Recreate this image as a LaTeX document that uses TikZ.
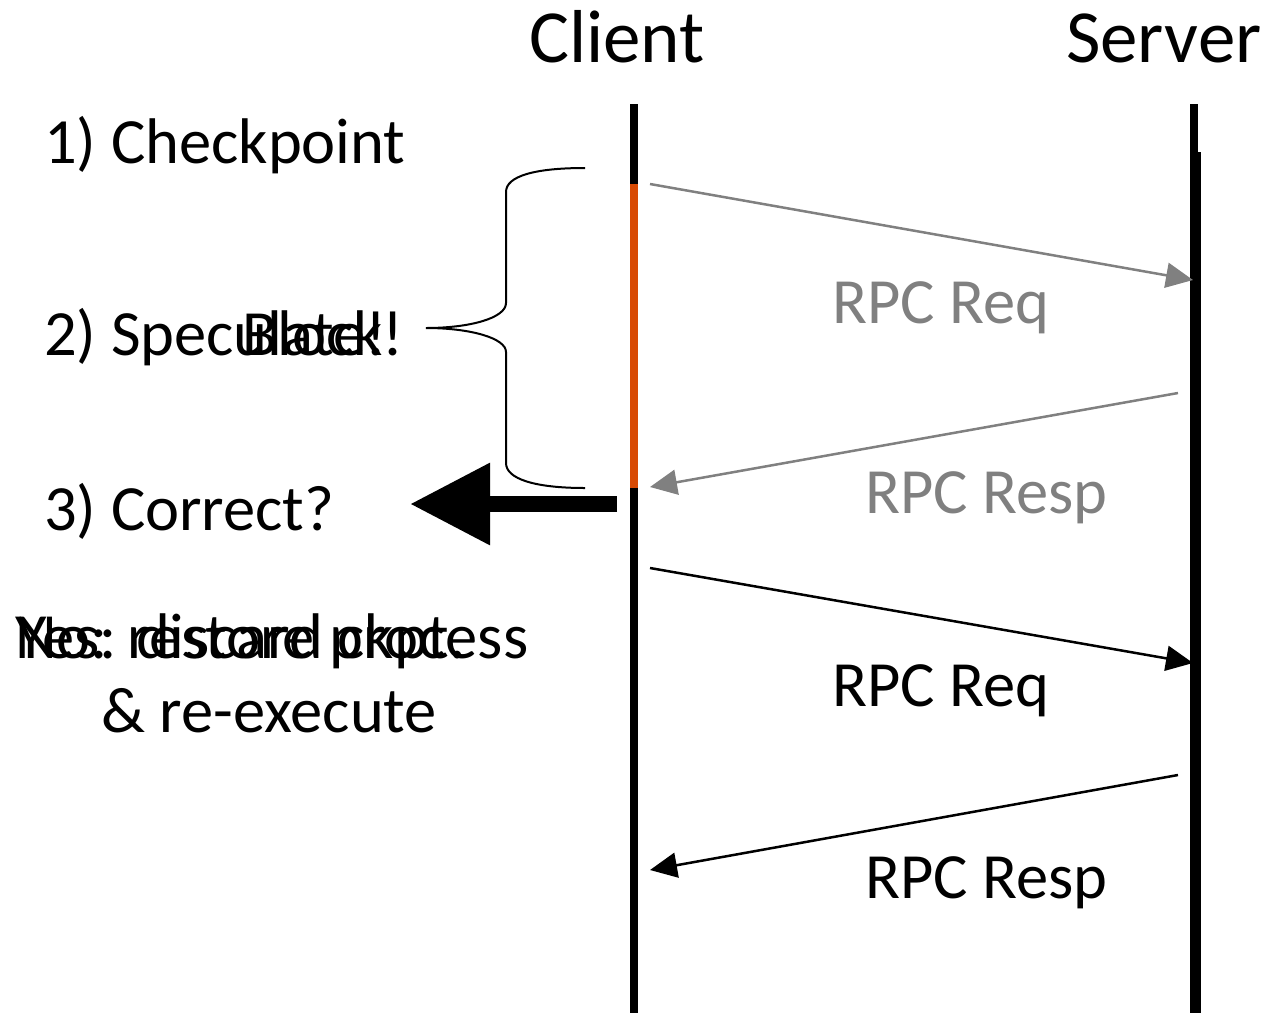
\documentclass[tikz,border=0pt]{standalone}
\usepackage{fontspec}
\setmainfont{Carlito}
\usetikzlibrary{arrows.meta}
\definecolor{specorange}{RGB}{216,74,4}
\definecolor{msggray}{RGB}{128,128,128}
\tikzset{
  lbl/.style={inner sep=0pt, anchor=base west, font=\fontsize{64.5}{70}\selectfont},
  head/.style={inner sep=0pt, anchor=base west, font=\fontsize{75}{80}\selectfont},
  lifeline/.style={line width=7.5pt},
  msg/.style={line width=2.5pt, -{Triangle[length=27pt,width=25pt]}},
  bigarrow/.style={line width=16pt, -{Triangle[length=80pt,width=78pt]}},
}
\begin{document}
\begin{tikzpicture}[x=1pt,y=-1pt]
\useasboundingbox (0,0) rectangle (1263,1013);

% column headers
\node[head] (client) at (529,62) {Client};
\node[head] (server) at (1066,62) {Server};

% lifelines
\coordinate (ctop) at (634,104);
\coordinate (cbot) at (634,1013);
\coordinate (cspecA) at (634,184);
\coordinate (cspecB) at (634,488);
\draw[lifeline] (ctop) -- (cbot);
\draw[lifeline, specorange] (cspecA) -- (cspecB);

\coordinate (stopA) at (1194,104);
\coordinate (sbotA) at (1194,1013);
\coordinate (stopB) at (1196,152);
\coordinate (sbotB) at (1196,1013);
\draw[lifeline] (stopA) -- (sbotA);
\draw[line width=10pt] (stopB) -- (sbotB);

% message end points
\coordinate (m1a) at (650,184);
\coordinate (m1b) at (1193,280);
\coordinate (m2a) at (1178,393);
\coordinate (m2b) at (650,487);
\coordinate (m3a) at (650,568);
\coordinate (m3b) at (1193,663);
\coordinate (m4a) at (1178,775);
\coordinate (m4b) at (650,870);

% speculative exchange (grey)
\draw[msg, msggray] (m1a) -- (m1b);
\draw[msg, msggray] (m2a) -- (m2b);
\node[lbl, text=msggray] (req1) at (832,323) {RPC Req};
\node[lbl, text=msggray] (resp1) at (865,513) {RPC Resp};

% actual exchange (black)
\draw[msg] (m3a) -- (m3b);
\draw[msg] (m4a) -- (m4b);
\node[lbl] (req2) at (832,706) {RPC Req};
\node[lbl] (resp2) at (865,898) {RPC Resp};

% steps on the left
\node[lbl] (step1) at (44,163) {1) Checkpoint};
\node[lbl] (step2) at (44,355) {2) Speculate!};
\node[lbl] (block) at (242,355) {Block!};
\node[lbl] (step3) at (44,530) {3) Correct?};
\node[lbl] (no) at (15,658) {No: restore process};
\node[lbl] (yes) at (15,658) {Yes: discard ckpt.};
\node[lbl] (reexec) at (101,732) {\& re-execute};

% brace over the speculative interval
\coordinate (brtop) at (585,168);
\coordinate (brtip) at (426,328);
\coordinate (brbot) at (585,488);
\draw[line width=2pt] (brtop) .. controls (535,168) and (506,176) .. (506,192)
  -- (506,303) .. controls (506,318) and (470,328) .. (brtip)
  .. controls (470,328) and (506,338) .. (506,352)
  -- (506,463) .. controls (506,479) and (535,488) .. (brbot);

% decision arrow
\coordinate (decA) at (617,504);
\coordinate (decB) at (410,504);
\draw[bigarrow] (decA) -- (decB);
\end{tikzpicture}
\end{document}
